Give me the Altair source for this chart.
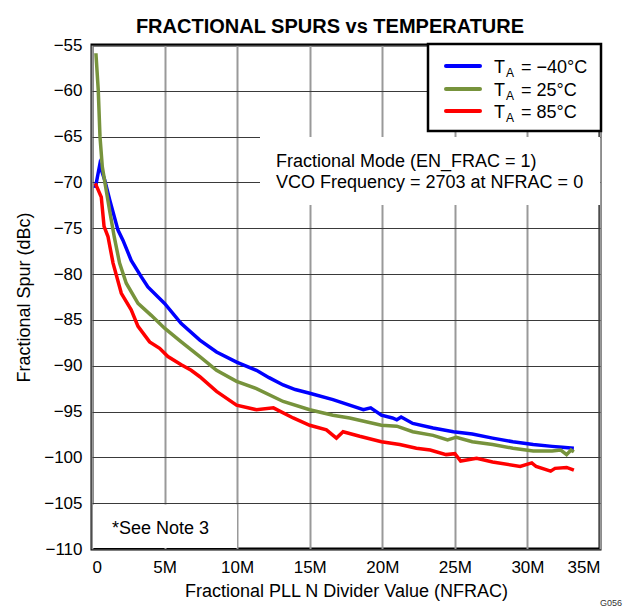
import altair as alt
import pandas as pd

FONT = "Liberation Sans"

# ---- data (NFRAC in millions, spur in dBc) ----
blue_x = [0.23, 0.53, 0.87, 1.22, 1.79, 2.13, 2.7, 3.4, 3.85, 5.0, 6.15, 7.43, 8.58, 9.96,
          11.33, 12.2, 13.17, 14.0, 15.0, 16.6, 17.75, 18.7, 19.2, 19.94, 20.7, 21.0, 21.3,
          22.1, 23.5, 24.9, 26.2, 27.6, 29.0, 30.4, 31.7, 32.4, 33.2]
blue_y = [-70.6, -68.1, -69.7, -71.9, -75.2, -76.3, -78.5, -80.3, -81.4, -83.2, -85.4, -87.2,
          -88.5, -89.6, -90.5, -91.3, -92.1, -92.6, -93.0, -93.7, -94.3, -94.8, -94.6, -95.4,
          -95.7, -95.9, -95.6, -96.3, -96.8, -97.2, -97.45, -97.9, -98.3, -98.6, -98.8, -98.9,
          -99.0]

green_x = [0.27, 0.43, 0.55, 0.71, 0.9, 1.24, 1.54, 1.9, 2.36, 3.17, 4.08, 5.0, 6.15, 7.43,
           8.58, 9.96, 11.33, 13.17, 15.0, 16.6, 17.75, 19.94, 21.0, 22.1, 23.5, 24.5, 25.1,
           26.2, 27.6, 29.0, 30.4, 31.7, 32.3, 32.7, 33.0, 33.2]
green_y = [-55.9, -59.9, -65.0, -68.3, -70.1, -73.3, -76.0, -78.8, -81.0, -83.2, -84.5, -85.9,
           -87.4, -89.0, -90.5, -91.7, -92.5, -93.9, -94.8, -95.4, -95.7, -96.5, -96.6, -97.2,
           -97.6, -98.1, -97.8, -98.3, -98.6, -99.0, -99.3, -99.3, -99.2, -99.7, -99.2, -99.4]

red_x = [0.23, 0.64, 0.83, 1.1, 1.45, 2.02, 2.7, 3.17, 3.97, 4.66, 5.23, 6.15, 6.83, 7.43,
         8.58, 9.96, 11.33, 12.5, 13.86, 15.0, 16.15, 16.84, 17.3, 18.44, 19.94, 21.2, 22.35,
         23.3, 24.4, 25.0, 25.4, 26.5, 27.6, 29.5, 30.3, 30.6, 31.6, 31.9, 32.7, 33.2]
red_y = [-70.1, -71.6, -74.8, -75.9, -78.8, -82.1, -83.9, -85.7, -87.4, -88.1, -89.0, -89.9,
         -90.5, -91.2, -92.8, -94.3, -94.8, -94.6, -95.7, -96.5, -97.0, -97.9, -97.2, -97.7,
         -98.3, -98.6, -99.0, -99.2, -99.7, -99.6, -100.4, -100.1, -100.5, -101.0, -100.6,
         -101.0, -101.5, -101.2, -101.1, -101.4]

series_names = ["-40C", "25C", "85C"]
series_colors = ["#0000FF", "#77933C", "#FF0000"]
legend_labels = ["= \u221240\u00b0C", "= 25\u00b0C", "= 85\u00b0C"]
x_ticks = [0, 5, 10, 15, 20, 25, 30, 35]
y_ticks = [-110, -105, -100, -95, -90, -85, -80, -75, -70, -65, -60, -55]

frames = []
for name, xs, ys in [("-40C", blue_x, blue_y), ("25C", green_x, green_y), ("85C", red_x, red_y)]:
    frames.append(pd.DataFrame({"nfrac": xs, "spur": ys, "temp": name}))
df = pd.concat(frames, ignore_index=True)

x_scale = alt.Scale(domain=[0, 35], nice=False)
y_scale = alt.Scale(domain=[-110, -55], nice=False)
color_scale = alt.Scale(domain=series_names, range=series_colors)

x_axis = alt.Axis(values=x_ticks, labelExpr="datum.value == 0 ? '0' : datum.value + 'M'",
                  ticks=False, domain=False, grid=True, gridColor="#999999",
                  gridWidth=2, labelFontSize=17, titleFontSize=18, labelPadding=10,
                  titlePadding=7, labelFont=FONT, titleFont=FONT, titleFontWeight="normal",
                  labelColor="black", titleColor="black")
y_axis = alt.Axis(values=y_ticks, ticks=False, domain=False, grid=True,
                  gridColor="#3a3a3a", gridWidth=1.2, labelFontSize=17, titleFontSize=18,
                  labelPadding=10, titlePadding=10, labelFont=FONT, titleFont=FONT,
                  titleFontWeight="normal", labelColor="black", titleColor="black")

one = pd.DataFrame({"a": [0]})


def line_layer(name):
    return alt.Chart(df).transform_filter(alt.datum.temp == name).mark_line(
        strokeWidth=3.5, clip=True
    ).encode(
        x=alt.X("nfrac:Q", scale=x_scale, axis=x_axis,
                title="Fractional PLL N Divider Value (NFRAC)"),
        y=alt.Y("spur:Q", scale=y_scale, axis=y_axis,
                title="Fractional Spur (dBc)"),
        color=alt.Color("temp:N", scale=color_scale, legend=None),
    )


# white boxes behind annotations
anno_box = alt.Chart(one).mark_rect(fill="white").encode(
    x=alt.value(168), x2=alt.value(508), y=alt.value(92), y2=alt.value(160))
note_box = alt.Chart(one).mark_rect(fill="white").encode(
    x=alt.value(1), x2=alt.value(145), y=alt.value(459.5), y2=alt.value(503))
legend_box = alt.Chart(one).mark_rect(fill="white", stroke="black", strokeWidth=2.5).encode(
    x=alt.value(336), x2=alt.value(509), y=alt.value(-1), y2=alt.value(86))

layers = [line_layer("-40C"), anno_box, note_box, legend_box,
          line_layer("85C"), line_layer("25C")]

row_y = [21, 44, 66]
for i in range(3):
    layers.append(alt.Chart(one).mark_rule(strokeWidth=4, color=series_colors[i],
                                           strokeCap="round").encode(
        x=alt.value(354), x2=alt.value(388), y=alt.value(row_y[i])))
    layers.append(alt.Chart(one).mark_text(align="left", baseline="alphabetic", fontSize=18,
                                           font=FONT, color="black").encode(
        x=alt.value(402), y=alt.value(row_y[i] + 6.5), text=alt.value("T")))
    layers.append(alt.Chart(one).mark_text(align="left", baseline="alphabetic", fontSize=12,
                                           font=FONT, color="black").encode(
        x=alt.value(414), y=alt.value(row_y[i] + 11), text=alt.value("A")))
    layers.append(alt.Chart(one).mark_text(align="left", baseline="alphabetic", fontSize=18,
                                           font=FONT, color="black").encode(
        x=alt.value(429), y=alt.value(row_y[i] + 6.5), text=alt.value(legend_labels[i])))

anno_lines = ["Fractional Mode (EN_FRAC = 1)", "VCO Frequency = 2703 at NFRAC = 0"]
for i, t in enumerate(anno_lines):
    layers.append(alt.Chart(one).mark_text(align="left", baseline="alphabetic", fontSize=18,
                                           font=FONT, color="black").encode(
        x=alt.value(184), y=alt.value(121.5 + 21.8 * i), text=alt.value(t)))

layers.append(alt.Chart(one).mark_text(align="left", baseline="alphabetic", fontSize=18,
                                       font=FONT, color="black").encode(
    x=alt.value(20), y=alt.value(489), text=alt.value("*See Note 3")))
layers.append(alt.Chart(one).mark_text(align="center", baseline="alphabetic", fontSize=9,
                                       font=FONT, color="#333333").encode(
    x=alt.value(519), y=alt.value(561), text=alt.value("G056")))

chart = alt.layer(*layers).properties(
    width=508, height=504,
    background="white",
    autosize=alt.AutoSizeParams(type="none"),
    padding={"left": 84, "top": 37, "right": 23, "bottom": 59},
    title=alt.TitleParams("FRACTIONAL SPURS vs TEMPERATURE", fontSize=20, fontWeight="bold",
                          font=FONT, anchor="middle", dx=-16, dy=15, offset=14,
                          color="black"),
).configure_view(stroke="black", strokeWidth=3)

chart.save("out.html", embed_options={"renderer": "svg", "actions": False})
